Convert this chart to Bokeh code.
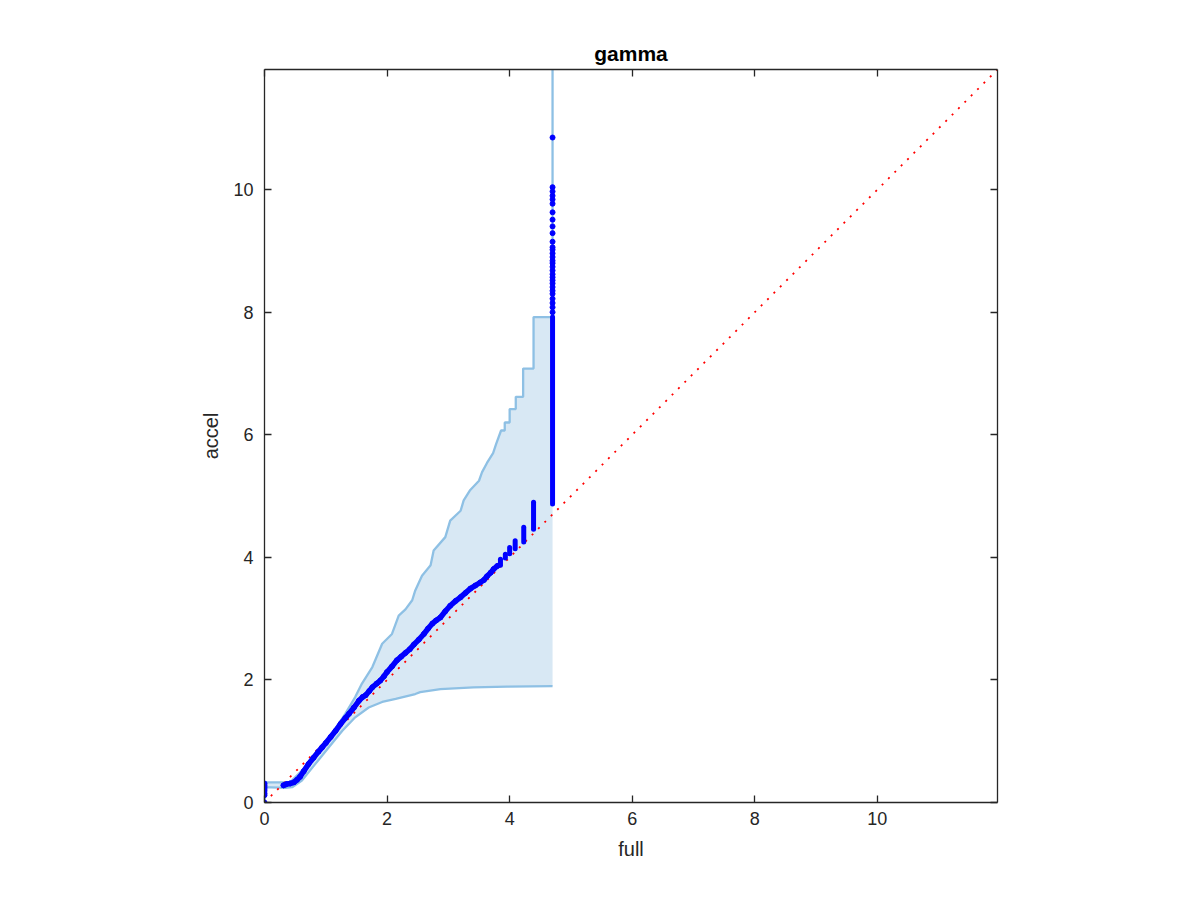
from bokeh.plotting import figure
from bokeh.models import Range1d, LinearAxis, FixedTicker
from bokeh.embed import file_html
from bokeh.resources import INLINE

# ---- data ----
x_ticks = [0, 2, 4, 6, 8, 10]
axis_max = 11.96

# quantile points (continuous part)
qq_x = [0.31, 0.36, 0.42, 0.48, 0.53, 0.58, 0.64, 0.72, 0.80, 0.88,
        0.94, 1.00, 1.08, 1.16, 1.24, 1.32, 1.38, 1.46, 1.54, 1.60,
        1.65, 1.71, 1.76, 1.83, 1.89, 1.95, 2.00, 2.08, 2.16, 2.23,
        2.30, 2.37, 2.44, 2.52, 2.60, 2.67, 2.74, 2.80, 2.87, 2.95,
        3.03, 3.12, 3.20, 3.28, 3.36, 3.44, 3.52, 3.58, 3.63, 3.69,
        3.74, 3.80]
qq_y = [0.28, 0.30, 0.31, 0.33, 0.37, 0.42, 0.51, 0.63, 0.73, 0.83,
        0.90, 0.97, 1.07, 1.17, 1.28, 1.38, 1.45, 1.55, 1.66, 1.72,
        1.75, 1.82, 1.88, 1.94, 1.99, 2.06, 2.13, 2.22, 2.32, 2.38,
        2.44, 2.50, 2.58, 2.66, 2.75, 2.84, 2.92, 2.97, 3.02, 3.12,
        3.21, 3.29, 3.35, 3.42, 3.49, 3.54, 3.59, 3.63, 3.69, 3.75,
        3.81, 3.86]

# points at full = 0
zero_y = [0.0, 0.12, 0.15, 0.19, 0.22, 0.25, 0.28, 0.31]

# tied-value stacks (full value, lowest accel, highest accel)
stack_x = [3.85, 3.93, 4.00, 4.09, 4.23, 4.39, 4.70]
stack_lo = [3.87, 3.99, 4.06, 4.14, 4.25, 4.46, 4.87]
stack_hi = [3.97, 4.05, 4.16, 4.27, 4.49, 4.90, 7.92]

# sparse tail of the last stack
tail_x = 4.70
tail_y = [8.00, 8.08, 8.15, 8.22, 8.30, 8.35, 8.41, 8.47, 8.52, 8.57,
          8.62, 8.68, 8.74, 8.80, 8.84, 8.90, 8.96, 9.02, 9.06, 9.15,
          9.29, 9.40, 9.51, 9.63, 9.77, 9.84, 9.90, 9.97, 10.04, 10.85]

# confidence band
low_x = [0, 0, 0.34, 0.45, 0.61, 0.83, 1.05, 1.27, 1.48, 1.70, 1.92,
         2.14, 2.46, 2.54, 2.87, 3.41, 3.96, 4.70]
low_y = [0, 0.25, 0.24, 0.25, 0.36, 0.63, 0.90, 1.17, 1.39, 1.55, 1.64,
         1.69, 1.77, 1.80, 1.85, 1.88, 1.89, 1.90]
up_x = [0, 0.40, 0.45, 0.67, 0.89, 1.10, 1.32, 1.48, 1.59, 1.76,
        1.92, 2.08, 2.19, 2.30, 2.41, 2.46, 2.57, 2.71, 2.76, 2.95,
        3.03, 3.20, 3.25, 3.35, 3.50, 3.55, 3.63, 3.73, 3.78, 3.86,
        3.92, 3.92, 4.00, 4.00, 4.10, 4.10, 4.22, 4.22, 4.39, 4.39,
        4.70]
up_y = [0.33, 0.33, 0.36, 0.58, 0.85, 1.12, 1.45, 1.72, 1.94, 2.21,
        2.59, 2.75, 3.05, 3.15, 3.30, 3.46, 3.70, 3.87, 4.11, 4.33,
        4.60, 4.76, 4.93, 5.09, 5.25, 5.39, 5.54, 5.70, 5.85, 6.07,
        6.07, 6.20, 6.20, 6.42, 6.42, 6.62, 6.62, 7.08, 7.08, 7.92,
        7.92]
up_tail_top = 13.0  # band upper limit is unbounded at the last point

FONT = "Liberation Sans"
TXT = "#262626"
BAND_FILL = "#d8e8f4"
BAND_LINE = "#8ec0e4"
BLUE = "#0000ff"

p = figure(frame_width=733, frame_height=733,
           x_range=Range1d(0, axis_max), y_range=Range1d(0, axis_max),
           output_backend="svg", toolbar_location=None,
           min_border_left=264, min_border_top=69,
           min_border_right=190, min_border_bottom=85,
           title="gamma")
p.grid.visible = False
p.outline_line_color = None
p.background_fill_color = "white"
p.border_fill_color = "white"

p.title.align = "center"
p.title.text_font = FONT
p.title.text_font_size = "21px"
p.title.text_font_style = "bold"
p.title.text_color = "black"

ticker = FixedTicker(ticks=x_ticks)

def style_axis(ax, show_labels=True):
    ax.ticker = ticker
    ax.axis_line_color = TXT
    ax.axis_line_width = 1.3
    ax.major_tick_line_color = TXT
    ax.major_tick_line_width = 1.3
    ax.major_tick_in = 7
    ax.major_tick_out = 0
    ax.minor_tick_line_color = None
    ax.major_label_text_font = FONT
    ax.major_label_text_color = TXT
    ax.major_label_text_font_size = "18px"
    ax.axis_label_text_font = FONT
    ax.axis_label_text_color = TXT
    ax.axis_label_text_font_style = "normal"
    ax.axis_label_text_font_size = "20px"
    if not show_labels:
        ax.major_label_overrides = {t: "" for t in x_ticks}
        ax.major_label_standoff = 0

style_axis(p.xaxis[0])
style_axis(p.yaxis[0])
p.xaxis[0].axis_label = "full"
p.yaxis[0].axis_label = "accel"
p.xaxis[0].major_label_standoff = 9
p.yaxis[0].major_label_standoff = 11
p.xaxis[0].axis_label_standoff = 10
p.yaxis[0].axis_label_standoff = 8

top = LinearAxis()
right = LinearAxis()
style_axis(top, False)
style_axis(right, False)
p.add_layout(top, "above")
p.add_layout(right, "right")

# band fill
poly_x = low_x + up_x[::-1]
poly_y = low_y + up_y[::-1]
p.patch(poly_x, poly_y, fill_color=BAND_FILL, line_color=None)
p.line(low_x, low_y, line_color=BAND_LINE, line_width=2.3)
p.line(up_x + [up_x[-1]], up_y + [up_tail_top], line_color=BAND_LINE, line_width=2.3)

# reference line
p.line([0, axis_max], [0, axis_max], line_color="red", line_width=1.8,
       line_dash="2 7")

# quantile points
p.line(qq_x, qq_y, line_color=BLUE, line_width=5.5, line_join="round", line_cap="round")
p.scatter(qq_x, qq_y, size=5, fill_color=BLUE, line_color=BLUE)
p.scatter([0] * len(zero_y), zero_y, size=5, fill_color=BLUE, line_color=BLUE)
p.segment(x0=stack_x, y0=stack_lo, x1=stack_x, y1=stack_hi,
          line_color=BLUE, line_width=5, line_cap="round")
p.scatter([tail_x] * len(tail_y), tail_y, size=5, fill_color=BLUE, line_color=BLUE)

open("out.html", "w").write(file_html(p, INLINE))
